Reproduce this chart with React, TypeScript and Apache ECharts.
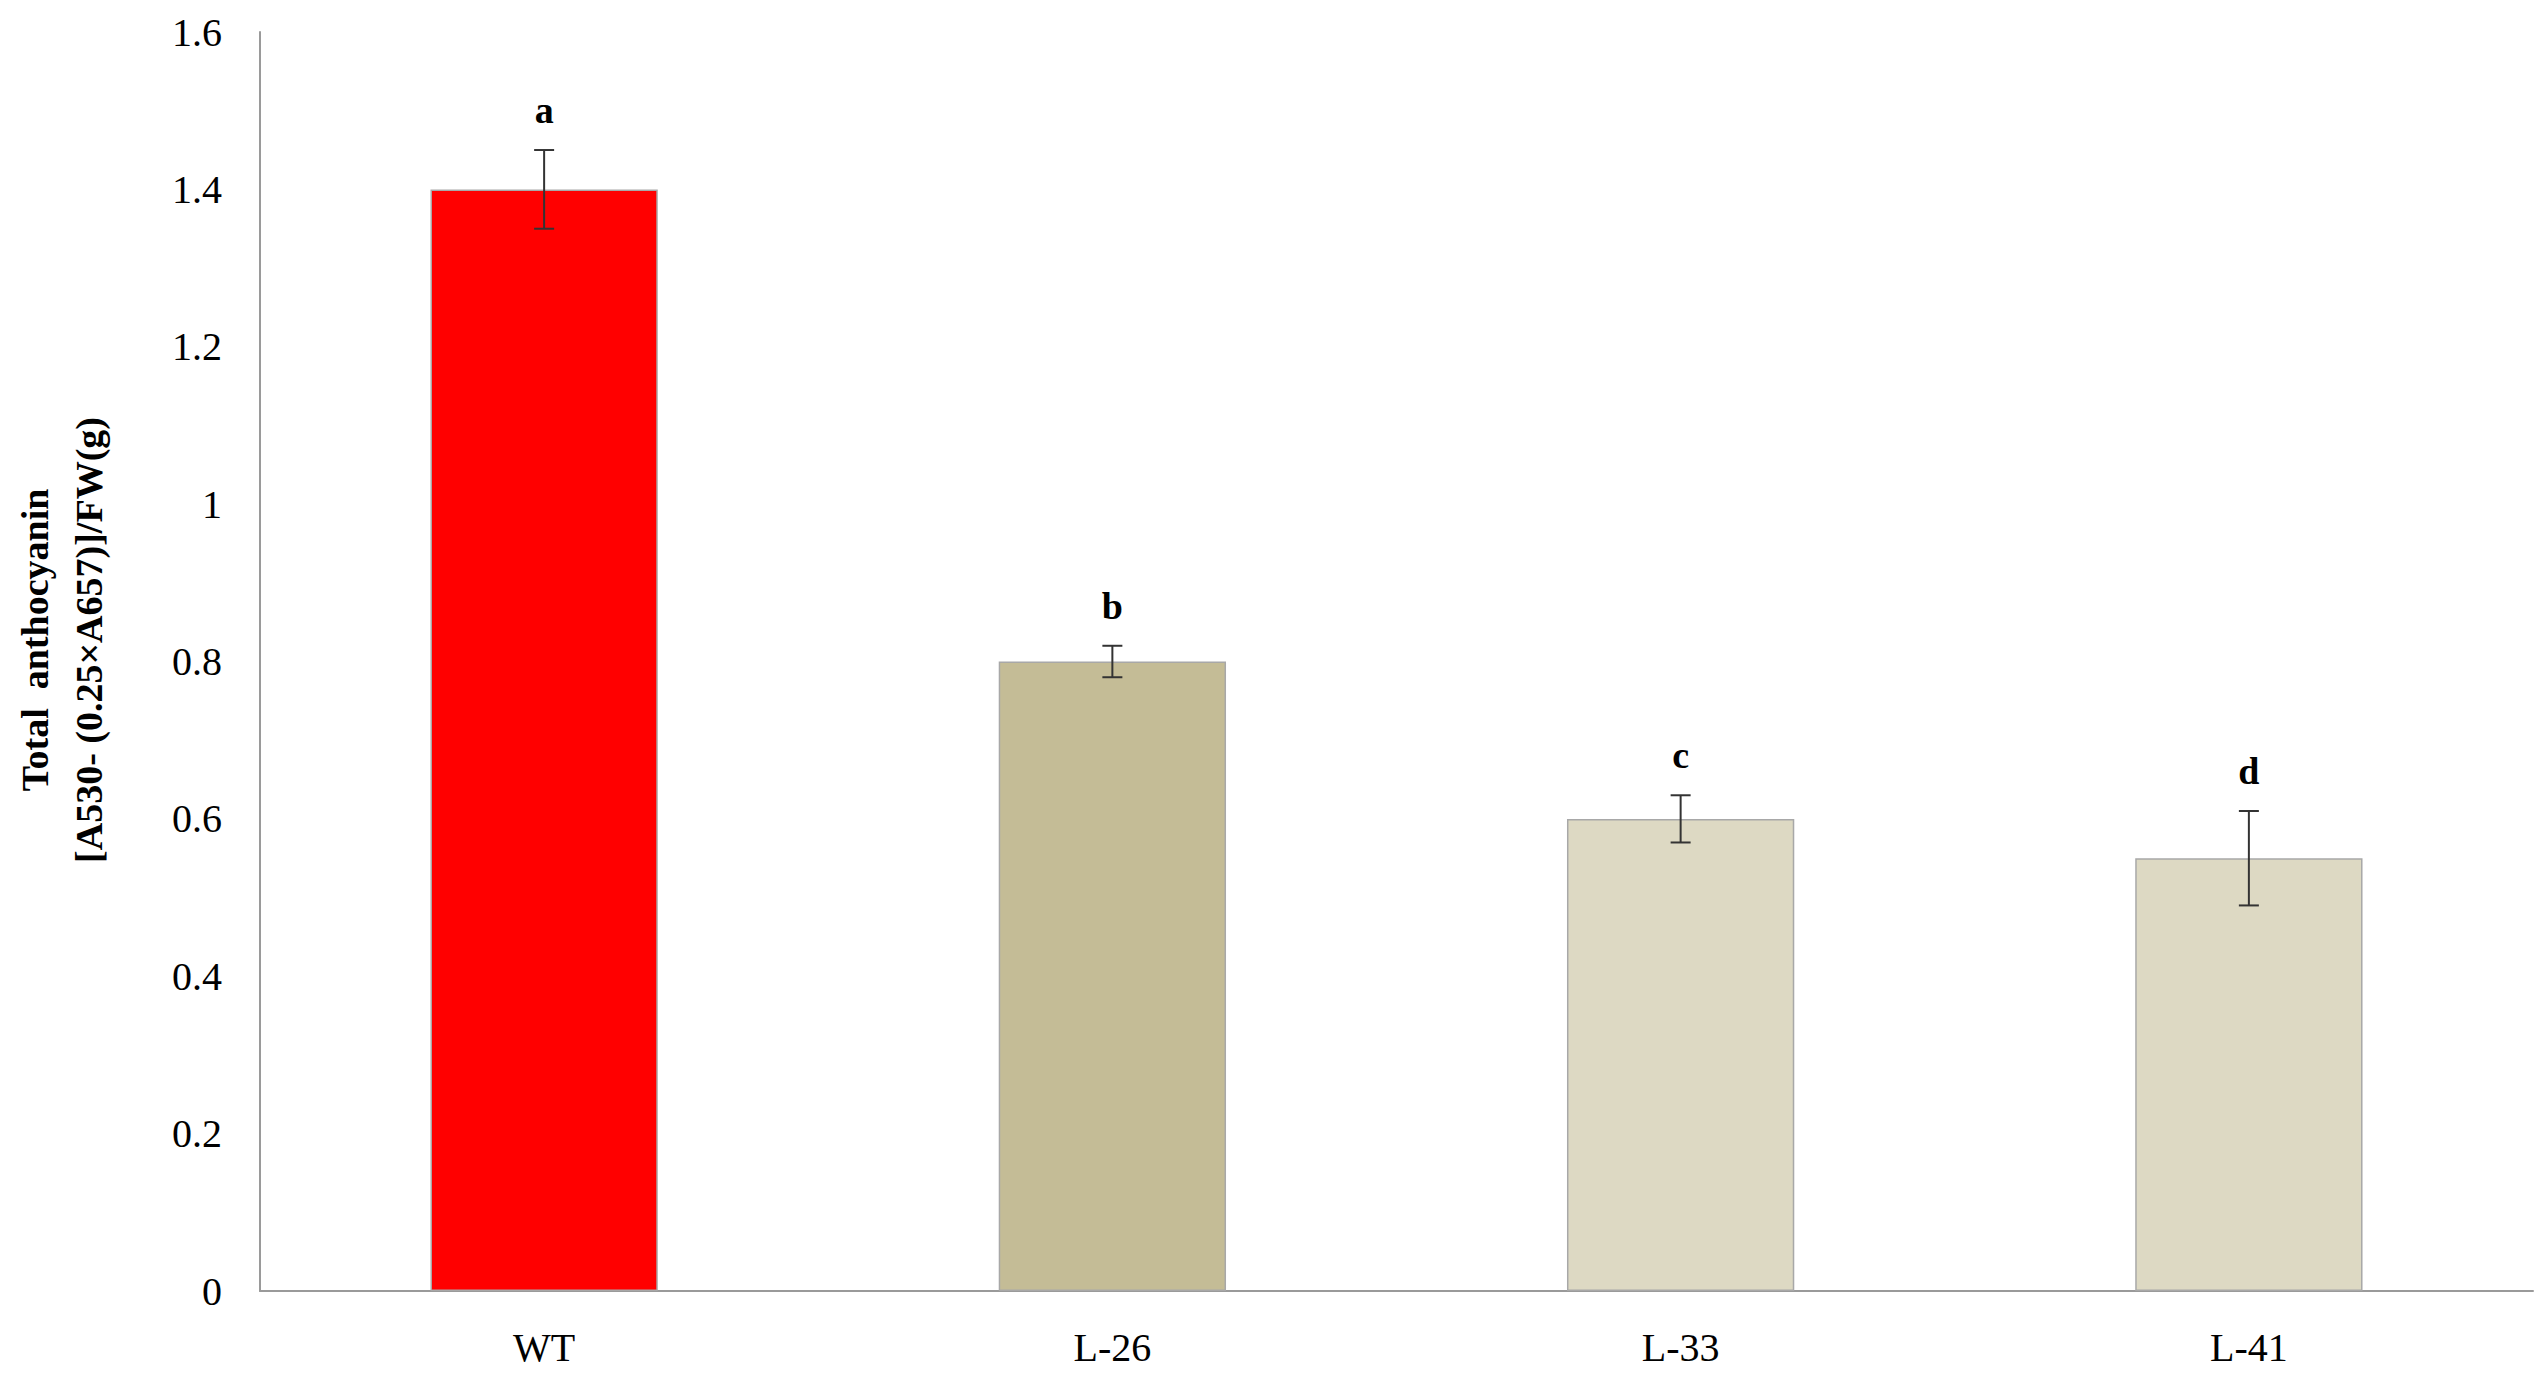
import React, { useEffect, useRef } from "react";
import * as echarts from "echarts";

const categories = ["WT", "L-26", "L-33", "L-41"];
const values = [1.4, 0.8, 0.6, 0.55];
const errors = [0.05, 0.02, 0.03, 0.06];
const letters = ["a", "b", "c", "d"];
const barColors = ["#FF0000", "#C4BC96", "#DDD9C3", "#DDD9C3"];
const yTicks = [0, 0.2, 0.4, 0.6, 0.8, 1, 1.2, 1.4, 1.6];

const FONT = "'Liberation Serif', 'Times New Roman', serif";

export default function App() {
  const ref = useRef<HTMLDivElement>(null);
  useEffect(() => {
    if (!ref.current) return;
    const chart = echarts.init(ref.current, undefined, { renderer: "svg" });
    const option: any = {
      animation: false,
      backgroundColor: "#ffffff",
      grid: { left: 260, right: 14, top: 32, bottom: 91, containLabel: false },
      xAxis: {
        type: "category",
        data: categories,
        axisLine: { show: true, lineStyle: { color: "#9a9a9a", width: 2 } },
        axisTick: { show: false },
        axisLabel: { color: "#000", fontFamily: FONT, fontSize: 40, margin: 36 },
        splitLine: { show: false },
      },
      yAxis: {
        type: "value",
        min: 0,
        max: 1.6,
        interval: 0.2,
        axisLine: { show: true, lineStyle: { color: "#9a9a9a", width: 2 } },
        axisTick: { show: false },
        splitLine: { show: false },
        axisLabel: {
          color: "#000",
          fontFamily: FONT,
          fontSize: 40,
          margin: 38,
          formatter: (v: number) => {
            const t = yTicks.find((x) => Math.abs(x - v) < 1e-9);
            return t === undefined ? "" : String(t);
          },
        },
      },
      graphic: [
        {
          type: "text",
          x: 62,
          y: 640,
          rotation: Math.PI / 2,
          style: {
            text: "Total  anthocyanin\n[A530- (0.25×A657)]/FW(g)",
            fontFamily: FONT,
            fontWeight: "bold",
            fontSize: 38,
            lineHeight: 54,
            fill: "#000",
            textAlign: "center",
            textVerticalAlign: "middle",
          },
        },
      ],
      series: [
        {
          type: "bar",
          barWidth: "40%",
          data: values.map((v, i) => ({
            value: v,
            itemStyle: { color: barColors[i], borderColor: "#a8a8a8", borderWidth: 1.5 },
          })),
        },
        {
          type: "custom",
          data: values.map((v, i) => [i, v, errors[i]]),
          z: 10,
          renderItem: (params: any, api: any) => {
            const idx = api.value(0);
            const v = api.value(1);
            const e = api.value(2);
            const top = api.coord([idx, v + e]);
            const bot = api.coord([idx, v - e]);
            const x = top[0];
            const cap = 10;
            const style = { stroke: "#333", lineWidth: 2 };
            return {
              type: "group",
              children: [
                { type: "line", shape: { x1: x, y1: top[1], x2: x, y2: bot[1] }, style },
                { type: "line", shape: { x1: x - cap, y1: top[1], x2: x + cap, y2: top[1] }, style },
                { type: "line", shape: { x1: x - cap, y1: bot[1], x2: x + cap, y2: bot[1] }, style },
                {
                  type: "text",
                  x: x,
                  y: top[1] - 40,
                  style: {
                    text: letters[params.dataIndex],
                    fontFamily: FONT,
                    fontWeight: "bold",
                    fontSize: 38,
                    fill: "#000",
                    textAlign: "center",
                    textVerticalAlign: "middle",
                  },
                },
              ],
            };
          },
        },
      ],
    };
    chart.setOption(option);
    return () => chart.dispose();
  }, []);
  return (
    <div
      ref={ref}
      style={{ position: "fixed", left: 0, top: 0, width: 2547, height: 1382, background: "#fff" }}
    />
  );
}
